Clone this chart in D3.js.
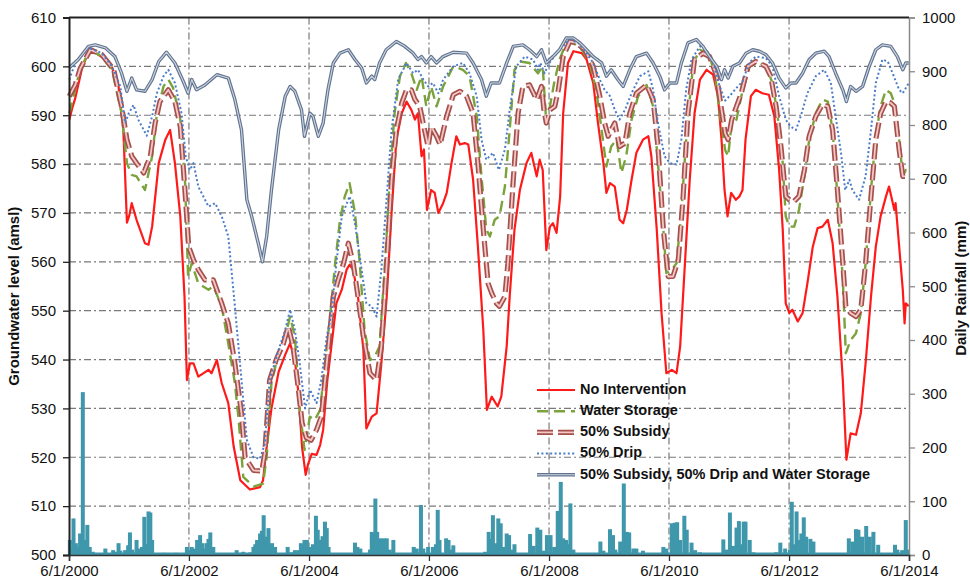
<!DOCTYPE html>
<html><head><meta charset="utf-8">
<script src="https://cdn.jsdelivr.net/npm/d3@7"></script>
<style>
html,body{margin:0;padding:0;background:#fff;}
svg{display:block;font-family:"Liberation Sans",Arial,sans-serif;}
</style></head>
<body><svg id="chart" width="970" height="581"></svg>
<script>
// ---- tick labels / categories ----
const dateTicks = ["6/1/2000","6/1/2002","6/1/2004","6/1/2006","6/1/2008","6/1/2010","6/1/2012","6/1/2014"];
const leftTicks = [500,510,520,530,540,550,560,570,580,590,600,610];
const rightTicks = [0,100,200,300,400,500,600,700,800,900,1000];
const seriesNames = ["No Intervention","Water Storage","50% Subsidy","50% Drip","50% Subsidy, 50% Drip and Water Storage"];

// ---- series values: [decimal year, groundwater level (amsl)] ----
const noIntervention = [[2000.42,589.1],[2000.47,591.5],[2000.52,593.5],[2000.63,599.5],[2000.74,603.0],[2000.80,603.4],[2000.91,602.3],[2001.02,601.5],[2001.13,599.8],[2001.24,595.9],[2001.32,587],[2001.38,568],[2001.42,569.5],[2001.46,572],[2001.54,568.6],[2001.68,563.8],[2001.74,563.5],[2001.80,567.2],[2001.91,580.2],[2002.02,585],[2002.10,587],[2002.18,580.2],[2002.27,569.3],[2002.34,552.9],[2002.38,535.8],[2002.43,539.2],[2002.49,539.2],[2002.57,536.5],[2002.74,537.9],[2002.79,537.2],[2002.88,539.9],[2002.96,535.2],[2003.07,531.1],[2003.16,522.2],[2003.27,515.3],[2003.43,513.4],[2003.60,513.9],[2003.65,515.3],[2003.71,522.2],[2003.79,530],[2003.91,537.5],[2004.02,541],[2004.10,543.3],[2004.18,539.9],[2004.24,533],[2004.30,522],[2004.36,516.4],[2004.40,518.6],[2004.46,520.7],[2004.54,520.5],[2004.60,522.5],[2004.65,525.6],[2004.72,535.8],[2004.82,546.1],[2004.87,551.5],[2004.96,554.3],[2005.04,558.4],[2005.09,559.4],[2005.15,558.4],[2005.23,552.9],[2005.32,542],[2005.37,525.9],[2005.46,528.3],[2005.54,529],[2005.62,539.2],[2005.71,552.9],[2005.79,570],[2005.87,585],[2005.96,590.4],[2006.04,592.8],[2006.12,591.1],[2006.18,589.1],[2006.23,590.4],[2006.29,581.6],[2006.33,583],[2006.38,570.6],[2006.45,574.7],[2006.51,574.1],[2006.57,570],[2006.65,572],[2006.71,574.1],[2006.79,580.2],[2006.87,585.7],[2006.93,584],[2007.01,584.3],[2007.07,584],[2007.15,576.8],[2007.23,563.1],[2007.32,546.1],[2007.38,529.7],[2007.46,532.4],[2007.56,530.4],[2007.62,532.4],[2007.71,542.7],[2007.76,552.9],[2007.84,566.6],[2007.93,574.7],[2008.04,580.2],[2008.12,582.3],[2008.21,577.5],[2008.26,580.9],[2008.31,578.8],[2008.37,562.4],[2008.43,567.2],[2008.48,567.9],[2008.54,565.9],[2008.60,573.4],[2008.65,590.4],[2008.73,600.7],[2008.82,603.1],[2008.96,602.7],[2009.04,601.4],[2009.15,596.6],[2009.23,588.4],[2009.32,580.2],[2009.37,574.1],[2009.43,576.1],[2009.51,575.4],[2009.59,568.6],[2009.65,567.9],[2009.71,570.6],[2009.79,576.8],[2009.87,582.3],[2009.98,585],[2010.07,585.7],[2010.12,581.6],[2010.21,566.6],[2010.29,549.5],[2010.37,537.2],[2010.46,537.9],[2010.54,537.2],[2010.60,542.7],[2010.68,559.7],[2010.76,576.8],[2010.84,590.4],[2010.93,597.3],[2011.04,599.3],[2011.15,598.3],[2011.23,593.9],[2011.29,585],[2011.34,574.7],[2011.39,569.3],[2011.45,574.1],[2011.53,572.7],[2011.59,573.4],[2011.64,574.7],[2011.69,585],[2011.78,593.9],[2011.86,595.2],[2011.97,594.5],[2012.08,594.2],[2012.17,589.8],[2012.25,578.8],[2012.31,566.6],[2012.36,551.5],[2012.42,549.5],[2012.47,550.2],[2012.56,547.8],[2012.64,549.5],[2012.72,555.6],[2012.81,563.1],[2012.89,566.9],[2012.97,567.2],[2013.06,568.6],[2013.14,563.8],[2013.22,552.9],[2013.31,535.8],[2013.37,519.5],[2013.44,524.9],[2013.53,524.6],[2013.61,529],[2013.69,539.2],[2013.78,552.9],[2013.86,563.1],[2013.94,569.3],[2014.03,573.4],[2014.08,575.4],[2014.17,570.6],[2014.19,572],[2014.25,563.1],[2014.31,554.3],[2014.34,547.4],[2014.36,551.5],[2014.41,550.9]];

const waterStorage = [[2000.42,590.4],[2000.52,595.2],[2000.60,599.5],[2000.77,603.4],[2000.96,602],[2001.13,599.3],[2001.29,590.4],[2001.38,580.2],[2001.46,577.8],[2001.54,577.5],[2001.68,574.7],[2001.80,581.6],[2001.88,590.4],[2001.99,595.9],[2002.07,597.3],[2002.15,595.6],[2002.27,589.1],[2002.35,576.1],[2002.40,557],[2002.46,559.7],[2002.57,555.6],[2002.74,554.3],[2002.82,555],[2002.96,550.9],[2003.07,543.3],[2003.18,535.2],[2003.24,528],[2003.32,516],[2003.49,514],[2003.65,514.6],[2003.71,520],[2003.79,535.2],[2003.91,541.4],[2004.02,544.7],[2004.10,548.8],[2004.18,544.7],[2004.26,530],[2004.34,521.5],[2004.43,528.3],[2004.51,527.6],[2004.60,529.7],[2004.68,539.2],[2004.76,548.1],[2004.85,559.7],[2004.93,568.6],[2005.01,573.4],[2005.09,576.1],[2005.18,570],[2005.26,559.7],[2005.34,546.1],[2005.43,539.9],[2005.51,540.6],[2005.59,542.7],[2005.68,559.7],[2005.76,576.8],[2005.84,590.4],[2005.93,598],[2006.03,600.7],[2006.12,598.6],[2006.21,595.2],[2006.29,598],[2006.37,591.8],[2006.45,595.9],[2006.54,591.8],[2006.65,595.9],[2006.82,600],[2006.98,599.3],[2007.09,598],[2007.21,589.8],[2007.29,577.5],[2007.37,566.6],[2007.43,565.2],[2007.51,568.6],[2007.59,569.3],[2007.68,575.4],[2007.76,587],[2007.84,599.3],[2007.93,601],[2008.09,600.7],[2008.23,598.6],[2008.31,600],[2008.37,588.4],[2008.42,591.1],[2008.50,596.6],[2008.59,601.4],[2008.70,604.8],[2008.82,604.8],[2008.96,603.4],[2009.09,600.7],[2009.20,595.2],[2009.29,587],[2009.37,579.5],[2009.45,583.6],[2009.54,585],[2009.62,578.2],[2009.70,581.6],[2009.79,589.1],[2009.90,593.9],[2010.04,596.2],[2010.15,591.8],[2010.23,580.2],[2010.32,566.6],[2010.37,557.7],[2010.46,558.4],[2010.54,559.7],[2010.62,570],[2010.71,587],[2010.82,600.7],[2010.93,603.4],[2011.07,602.7],[2011.18,598.6],[2011.26,590.4],[2011.35,582.9],[2011.40,581.6],[2011.46,588.4],[2011.54,589.1],[2011.62,593.9],[2011.76,600],[2011.92,600.7],[2012.03,600],[2012.14,596.6],[2012.22,590.4],[2012.31,580.2],[2012.36,569.3],[2012.42,567.2],[2012.50,567.2],[2012.58,570.6],[2012.67,577.5],[2012.75,585],[2012.86,590.4],[2012.97,593.2],[2013.06,592.8],[2013.14,587],[2013.22,573.4],[2013.31,556.3],[2013.36,541.3],[2013.44,544],[2013.53,545.4],[2013.61,549.5],[2013.69,559.7],[2013.78,574.7],[2013.86,585.7],[2013.94,591.8],[2014.03,595.2],[2014.11,594.5],[2014.17,592.5],[2014.25,585],[2014.31,577.5],[2014.36,578.8],[2014.41,578.8]];

const subsidy50 = [[2000.42,593.9],[2000.52,596.2],[2000.60,599.5],[2000.77,603.4],[2000.96,602.4],[2001.16,599.3],[2001.29,591.8],[2001.38,585],[2001.46,581.6],[2001.54,580.2],[2001.66,578.2],[2001.77,581.6],[2001.85,588.4],[2001.93,592.8],[2002.07,595.2],[2002.18,592.8],[2002.27,587.7],[2002.35,574.1],[2002.41,563.1],[2002.49,560.4],[2002.57,558.4],[2002.68,556.3],[2002.82,556.3],[2002.96,551.5],[2003.07,547.4],[2003.18,539.2],[2003.29,529],[2003.35,520],[2003.49,517.3],[2003.63,517.2],[2003.68,521],[2003.76,535.8],[2003.87,540],[2003.99,543.3],[2004.07,546.8],[2004.15,542.7],[2004.24,533.8],[2004.30,527],[2004.37,524],[2004.45,523.5],[2004.54,525.6],[2004.62,528.3],[2004.71,539.2],[2004.82,552.9],[2004.90,556.3],[2004.99,559.7],[2005.07,563.8],[2005.15,559.7],[2005.23,552.9],[2005.32,544.7],[2005.43,537.2],[2005.54,535.8],[2005.62,542.7],[2005.71,559.7],[2005.79,576.8],[2005.87,587],[2005.96,592.5],[2006.04,595.2],[2006.12,595.2],[2006.18,593.2],[2006.26,591.8],[2006.34,587],[2006.40,583.6],[2006.45,587.7],[2006.54,585.7],[2006.60,584],[2006.71,589.8],[2006.82,594.2],[2006.93,594.9],[2007.04,593.9],[2007.15,590.4],[2007.23,580.2],[2007.32,566.6],[2007.40,555.6],[2007.46,553.6],[2007.54,551.5],[2007.59,550.9],[2007.68,552.9],[2007.73,559.7],[2007.82,576.8],[2007.90,590.4],[2007.98,595.9],[2008.09,596.2],[2008.21,593.2],[2008.29,595.9],[2008.33,591.1],[2008.37,588.4],[2008.43,591.1],[2008.51,591.8],[2008.57,595.2],[2008.65,602],[2008.76,605.1],[2008.87,604.8],[2009.01,603.4],[2009.15,600],[2009.26,593.9],[2009.34,588.4],[2009.40,585.7],[2009.45,587],[2009.51,588.4],[2009.59,583.6],[2009.68,584.3],[2009.76,590.4],[2009.87,594.5],[2010.04,596.2],[2010.15,593.2],[2010.23,583.6],[2010.32,566.6],[2010.40,557],[2010.48,557],[2010.57,560.4],[2010.65,573.4],[2010.73,590.4],[2010.84,601.4],[2010.98,602.7],[2011.09,602],[2011.21,598],[2011.29,591.1],[2011.35,586.3],[2011.40,585],[2011.46,589.1],[2011.54,591.8],[2011.62,594.5],[2011.73,600],[2011.86,601],[2012.03,600],[2012.11,598],[2012.20,591.8],[2012.28,583.6],[2012.36,573.4],[2012.42,572.7],[2012.50,572.4],[2012.58,573.4],[2012.67,578.8],[2012.75,585.7],[2012.86,589.8],[2012.97,592.2],[2013.06,591.8],[2013.14,587],[2013.22,574.7],[2013.31,559.7],[2013.36,550.9],[2013.44,549.5],[2013.53,548.8],[2013.61,550.2],[2013.69,559.7],[2013.78,573.4],[2013.86,585],[2013.94,590.4],[2014.03,592.8],[2014.11,592.5],[2014.17,591.8],[2014.25,582.9],[2014.31,577.5],[2014.41,577.5]];

const drip50 = [[2000.42,597.3],[2000.52,600.7],[2000.74,603.8],[2000.96,602.7],[2001.13,600],[2001.27,595.9],[2001.35,588.4],[2001.41,590.4],[2001.49,592.1],[2001.57,589.1],[2001.71,585.8],[2001.80,589.8],[2001.88,594.5],[2001.99,598],[2002.07,599.3],[2002.18,596.6],[2002.29,590.4],[2002.36,581.6],[2002.43,578.8],[2002.49,580.2],[2002.57,575.4],[2002.74,571.3],[2002.85,572],[2002.96,569.3],[2003.07,565.2],[2003.18,550.9],[2003.29,535.8],[2003.38,523.5],[2003.49,520],[2003.60,519.7],[2003.68,522.8],[2003.76,535.8],[2003.91,542],[2004.02,546.1],[2004.10,550.2],[2004.18,546.1],[2004.26,539.2],[2004.35,530],[2004.43,533.8],[2004.54,531.1],[2004.62,535.8],[2004.71,544.7],[2004.79,549.5],[2004.87,559.7],[2004.96,569.3],[2005.09,573.4],[2005.18,567.9],[2005.26,561.1],[2005.37,551.5],[2005.46,550.9],[2005.54,548.8],[2005.62,558.4],[2005.71,573.4],[2005.79,587],[2005.90,597.3],[2006.04,600.7],[2006.15,598.6],[2006.23,599.3],[2006.32,597.3],[2006.40,595.9],[2006.48,596.6],[2006.57,594.5],[2006.65,597.3],[2006.82,600],[2006.98,600.7],[2007.09,598.6],[2007.21,593.9],[2007.29,585],[2007.37,580.9],[2007.48,582.3],[2007.58,578.8],[2007.68,583],[2007.76,591.1],[2007.87,600],[2008.01,602],[2008.15,601.4],[2008.23,599.3],[2008.27,600.7],[2008.34,598.6],[2008.42,600.7],[2008.59,603.4],[2008.76,605.5],[2008.90,604.8],[2009.04,602.7],[2009.15,600.7],[2009.26,597.3],[2009.34,595.2],[2009.43,593.9],[2009.51,591.1],[2009.59,589.1],[2009.68,591.1],[2009.79,594.5],[2009.93,598],[2010.07,599],[2010.15,595.2],[2010.23,588.4],[2010.34,581.6],[2010.43,580.2],[2010.54,579.9],[2010.62,585],[2010.70,595.2],[2010.79,601.4],[2010.93,604.1],[2011.04,603.4],[2011.15,600.7],[2011.26,595.9],[2011.35,593],[2011.43,594],[2011.54,595.6],[2011.64,596.9],[2011.75,600.7],[2011.86,602],[2012.03,601.7],[2012.14,600],[2012.25,593.9],[2012.36,589.1],[2012.44,587.7],[2012.53,587],[2012.61,589.8],[2012.72,594.5],[2012.86,598],[2013.00,599.3],[2013.11,596.6],[2013.19,589.8],[2013.28,582.3],[2013.35,574.7],[2013.42,576.8],[2013.47,574.7],[2013.58,572.7],[2013.69,577.5],[2013.78,587],[2013.86,596.6],[2013.97,601.4],[2014.06,601],[2014.14,598.6],[2014.25,595.2],[2014.31,594.5],[2014.41,596.6]];

const combined = [[2000.42,599.7],[2000.57,601.4],[2000.74,604.1],[2000.85,604.4],[2001.02,603.8],[2001.18,602],[2001.29,598.6],[2001.38,594.9],[2001.46,597.6],[2001.54,595.2],[2001.68,594.9],[2001.80,597.3],[2001.91,601],[2002.04,602.9],[2002.18,600.7],[2002.32,596.9],[2002.40,594.5],[2002.46,597.3],[2002.54,595.2],[2002.68,596.2],[2002.88,598.3],[2003.07,597.6],[2003.18,593.2],[2003.29,587],[2003.38,572.7],[2003.46,569.3],[2003.57,563.8],[2003.64,560],[2003.71,565.2],[2003.79,574.7],[2003.91,587],[2004.02,593.9],[2004.10,595.9],[2004.18,594.9],[2004.29,591.1],[2004.34,585.7],[2004.43,590.4],[2004.48,589.8],[2004.57,585.7],[2004.65,588.4],[2004.73,595.2],[2004.82,600.7],[2004.93,602.7],[2005.07,603.4],[2005.18,601.4],[2005.29,599.7],[2005.37,596.6],[2005.46,598],[2005.51,597.3],[2005.59,600.7],[2005.70,603.4],[2005.87,605.1],[2006.01,604.1],[2006.15,602.7],[2006.23,601.4],[2006.29,602],[2006.37,600.7],[2006.45,602],[2006.54,600.7],[2006.65,602],[2006.82,602.9],[2007.04,602.7],[2007.15,600.7],[2007.29,597.3],[2007.37,593.9],[2007.45,596.6],[2007.59,596.6],[2007.71,600.7],[2007.82,604.1],[2007.98,604.4],[2008.09,603.4],[2008.21,602],[2008.29,603.4],[2008.37,600.7],[2008.48,602],[2008.59,603.4],[2008.70,605.8],[2008.82,605.8],[2008.93,604.8],[2009.04,603.4],[2009.15,602],[2009.29,600.7],[2009.37,598],[2009.45,599.3],[2009.56,597.3],[2009.65,595.9],[2009.76,599.3],[2009.87,602],[2010.04,602.7],[2010.15,600.7],[2010.26,598],[2010.34,595.2],[2010.43,596.6],[2010.54,596.6],[2010.62,600.7],[2010.73,604.8],[2010.87,605.5],[2010.98,604.1],[2011.09,602],[2011.21,600],[2011.29,597.3],[2011.34,599.3],[2011.40,597.6],[2011.48,600],[2011.59,600.7],[2011.70,602.7],[2011.81,603.4],[2011.92,603.1],[2012.03,602.4],[2012.14,600.7],[2012.25,597.6],[2012.36,595.6],[2012.45,596.6],[2012.53,596.6],[2012.64,598.6],[2012.75,601.4],[2012.86,602.7],[2013.00,603.1],[2013.08,602],[2013.19,598.6],[2013.31,595.2],[2013.37,592.8],[2013.44,595.9],[2013.53,594.9],[2013.64,595.9],[2013.75,600],[2013.86,603.4],[2013.97,604.4],[2014.11,604.1],[2014.22,602],[2014.31,599.3],[2014.36,600.7],[2014.41,600.7]];

// ---- daily rainfall (mm): [decimal year, mm] ----
const rainfall = [[2000.43,28],[2000.45,12],[2000.49,68],[2000.53,22],[2000.56,15],[2000.60,40],[2000.645,303],[2000.67,28],[2000.70,10],[2000.72,56],[2000.76,15],[2000.81,6],[2000.90,3],[2000.95,2],[2001.02,12],[2001.07,3],[2001.15,9],[2001.20,6],[2001.24,22],[2001.27,8],[2001.35,9],[2001.40,18],[2001.43,42],[2001.47,10],[2001.54,28],[2001.59,12],[2001.63,15],[2001.67,71],[2001.70,20],[2001.74,81],[2001.77,79],[2001.80,28],[2001.90,3],[2002.00,4],[2002.10,2],[2002.20,4],[2002.30,3],[2002.38,15],[2002.42,10],[2002.46,15],[2002.50,12],[2002.55,28],[2002.60,37],[2002.64,22],[2002.68,12],[2002.71,22],[2002.74,30],[2002.77,42],[2002.82,15],[2002.95,2],[2003.05,3],[2003.21,9],[2003.25,4],[2003.32,6],[2003.44,5],[2003.49,15],[2003.52,20],[2003.55,28],[2003.60,40],[2003.63,45],[2003.66,74],[2003.69,34],[2003.74,50],[2003.77,15],[2003.80,22],[2003.85,15],[2003.92,3],[2004.06,15],[2004.12,5],[2004.18,9],[2004.24,9],[2004.28,22],[2004.31,18],[2004.34,28],[2004.38,28],[2004.43,15],[2004.48,20],[2004.53,73],[2004.56,47],[2004.60,28],[2004.64,35],[2004.68,62],[2004.71,50],[2004.74,15],[2004.80,3],[2004.95,2],[2005.18,23],[2005.22,15],[2005.27,12],[2005.43,10],[2005.46,43],[2005.49,40],[2005.52,105],[2005.55,43],[2005.60,31],[2005.63,25],[2005.66,31],[2005.69,25],[2005.71,31],[2005.76,10],[2005.82,28],[2005.90,2],[2006.16,15],[2006.21,12],[2006.28,93],[2006.32,12],[2006.40,15],[2006.48,15],[2006.53,20],[2006.56,84],[2006.59,28],[2006.70,31],[2006.74,28],[2006.78,10],[2006.82,18],[2006.90,3],[2007.35,6],[2007.41,43],[2007.45,30],[2007.48,74],[2007.52,22],[2007.57,68],[2007.61,59],[2007.65,15],[2007.71,40],[2007.75,37],[2007.80,10],[2007.84,20],[2008.10,39],[2008.16,17],[2008.22,51],[2008.27,47],[2008.32,8],[2008.38,37],[2008.44,37],[2008.50,15],[2008.56,82],[2008.61,136],[2008.65,31],[2008.70,28],[2008.73,20],[2008.77,96],[2008.82,10],[2009.10,2],[2009.27,25],[2009.32,8],[2009.43,48],[2009.48,37],[2009.52,10],[2009.60,25],[2009.66,133],[2009.71,43],[2009.75,42],[2009.82,12],[2009.87,12],[2009.98,8],[2010.10,3],[2010.32,15],[2010.37,12],[2010.46,59],[2010.51,60],[2010.55,61],[2010.60,28],[2010.67,73],[2010.71,47],[2010.79,23],[2010.85,9],[2010.93,5],[2011.10,2],[2011.32,29],[2011.38,10],[2011.43,79],[2011.48,17],[2011.54,51],[2011.58,63],[2011.62,20],[2011.66,62],[2011.69,62],[2011.76,28],[2011.82,5],[2012.20,5],[2012.27,23],[2012.35,12],[2012.43,10],[2012.46,99],[2012.50,20],[2012.54,81],[2012.58,28],[2012.62,40],[2012.66,70],[2012.70,34],[2012.77,30],[2012.82,25],[2012.88,3],[2013.10,2],[2013.41,31],[2013.47,25],[2013.53,48],[2013.57,47],[2013.63,34],[2013.70,54],[2013.76,34],[2013.82,43],[2013.90,19],[2013.97,3],[2014.18,19],[2014.22,10],[2014.30,9],[2014.36,65],[2014.39,10]];

// ---- helpers ----
function toDate(t){
  const yr = Math.floor(t);
  const start = new Date(yr,0,1), end = new Date(yr+1,0,1);
  return new Date(start.getTime() + (t-yr)*(end-start));
}
const parseTick = d3.timeParse("%m/%d/%Y");
const tickDates = dateTicks.map(parseTick);

const svg = d3.select("#chart");
const L = 69, R = 909, T = 17.5, B = 555;

const x = d3.scaleTime().domain([tickDates[0], tickDates[tickDates.length-1]]).range([L,R]);
const y = d3.scaleLinear().domain([500,610]).range([B,T]);
const yR = d3.scaleLinear().domain([0,1000]).range([B,T]);

svg.append("rect").attr("width",970).attr("height",581).attr("fill","#fff");

// gridlines
const grid = svg.append("g").attr("stroke","#7a7a7a").attr("stroke-width",1.2).attr("stroke-dasharray","7,3,2,3").attr("fill","none");
grid.selectAll("line.h").data(leftTicks.filter(v=>v>500 && v<610)).join("line")
  .attr("x1",L).attr("x2",R).attr("y1",d=>y(d)).attr("y2",d=>y(d));
grid.selectAll("line.v").data(tickDates.slice(1,-1)).join("line")
  .attr("x1",d=>x(d)).attr("x2",d=>x(d)).attr("y1",T).attr("y2",B);

// rainfall bars
svg.append("g").selectAll("rect").data(rainfall).join("rect")
  .attr("x",d=>x(toDate(d[0]))-2).attr("width",4)
  .attr("y",d=>yR(d[1])).attr("height",d=>B-yR(d[1]))
  .attr("fill","#3f97ab");
svg.append("line").attr("x1",L).attr("x2",R).attr("y1",B-1.2).attr("y2",B-1.2)
  .attr("stroke","#3f97ab").attr("stroke-width",2.4);

const line = d3.line().x(d=>x(toDate(d[0]))).y(d=>y(d[1]));

const styles = [
  {data:noIntervention, layers:[{stroke:"#ff1a1a",w:2.2,dash:null}]},
  {data:waterStorage, layers:[{stroke:"#7ba33c",w:2.4,dash:"11,6"}]},
  {data:subsidy50, layers:[{stroke:"#a5504c",w:5.2,dash:"16,5"},{stroke:"#f3c8c6",w:1.8,dash:"16,5"}]},
  {data:drip50, layers:[{stroke:"#4a7cc8",w:2,dash:"2,2.4"}]},
  {data:combined, layers:[{stroke:"#62748f",w:3.4,dash:null},{stroke:"#cdd5e2",w:1.1,dash:null}]}
];
const lines = svg.append("g").attr("fill","none");
styles.forEach(s=>{
  s.layers.forEach(l=>{
    lines.append("path").datum(s.data).attr("d",line)
      .attr("stroke",l.stroke).attr("stroke-width",l.w)
      .attr("stroke-dasharray",l.dash).attr("stroke-linejoin","round");
  });
});

// axes
const fontSize = "15px";
const gL = svg.append("g").attr("transform",`translate(${L},0)`)
  .call(d3.axisLeft(y).tickValues(leftTicks).tickSize(6).tickPadding(7).tickFormat(d3.format("d")));
gL.select(".domain").attr("stroke","#222").attr("stroke-width",2);
gL.selectAll(".tick line").attr("stroke","#222").attr("stroke-width",1.3);
gL.selectAll("text").attr("font-size",fontSize).attr("fill","#111").attr("font-family","Liberation Sans, Arial, sans-serif");

const gR = svg.append("g").attr("transform",`translate(${R},0)`)
  .call(d3.axisRight(yR).tickValues(rightTicks).tickSize(6).tickPadding(7).tickFormat(d3.format("d")));
gR.select(".domain").attr("stroke","#8a8a8a").attr("stroke-width",1.5);
gR.selectAll(".tick line").attr("stroke","#8a8a8a").attr("stroke-width",1.3);
gR.selectAll("text").attr("font-size",fontSize).attr("fill","#111").attr("font-family","Liberation Sans, Arial, sans-serif");

const gB = svg.append("g").attr("transform",`translate(0,${B})`)
  .call(d3.axisBottom(x).tickValues(tickDates).tickSize(6).tickPadding(4).tickFormat((d,i)=>dateTicks[i]));
gB.select(".domain").attr("stroke","#333").attr("stroke-width",1.5);
gB.selectAll(".tick line").attr("stroke","#333").attr("stroke-width",1.3);
gB.selectAll("text").attr("font-size",fontSize).attr("fill","#111").attr("font-family","Liberation Sans, Arial, sans-serif");

// top border
svg.append("line").attr("x1",L).attr("x2",R).attr("y1",T).attr("y2",T).attr("stroke","#222").attr("stroke-width",1.8);

// axis titles
svg.append("text").attr("transform",`translate(19,${(T+B)/2+10}) rotate(-90)`)
  .attr("text-anchor","middle").attr("font-size","15px").attr("font-weight","bold").attr("fill","#111")
  .text("Groundwater level (amsl)");
svg.append("text").attr("transform",`translate(962,${(T+B)/2+2}) rotate(-90)`)
  .attr("text-anchor","middle").attr("dominant-baseline","middle").attr("font-size","15px").attr("font-weight","bold").attr("fill","#111")
  .text("Daily Rainfall (mm)");

// legend
const legY0 = 390, legDy = 21.2, legX1 = 537, legX2 = 575, legTx = 580;
const leg = svg.append("g");
styles.forEach((s,i)=>{
  const yy = legY0 + i*legDy;
  s.layers.forEach(l=>{
    leg.append("line").attr("x1",legX1).attr("x2",legX2).attr("y1",yy).attr("y2",yy)
      .attr("stroke",l.stroke).attr("stroke-width",l.w).attr("stroke-dasharray",l.dash);
  });
  leg.append("text").attr("x",legTx).attr("y",yy).attr("dominant-baseline","middle")
    .attr("font-size","14.5px").attr("font-weight","bold").attr("fill","#111").text(seriesNames[i]);
});
</script>
</body></html>
